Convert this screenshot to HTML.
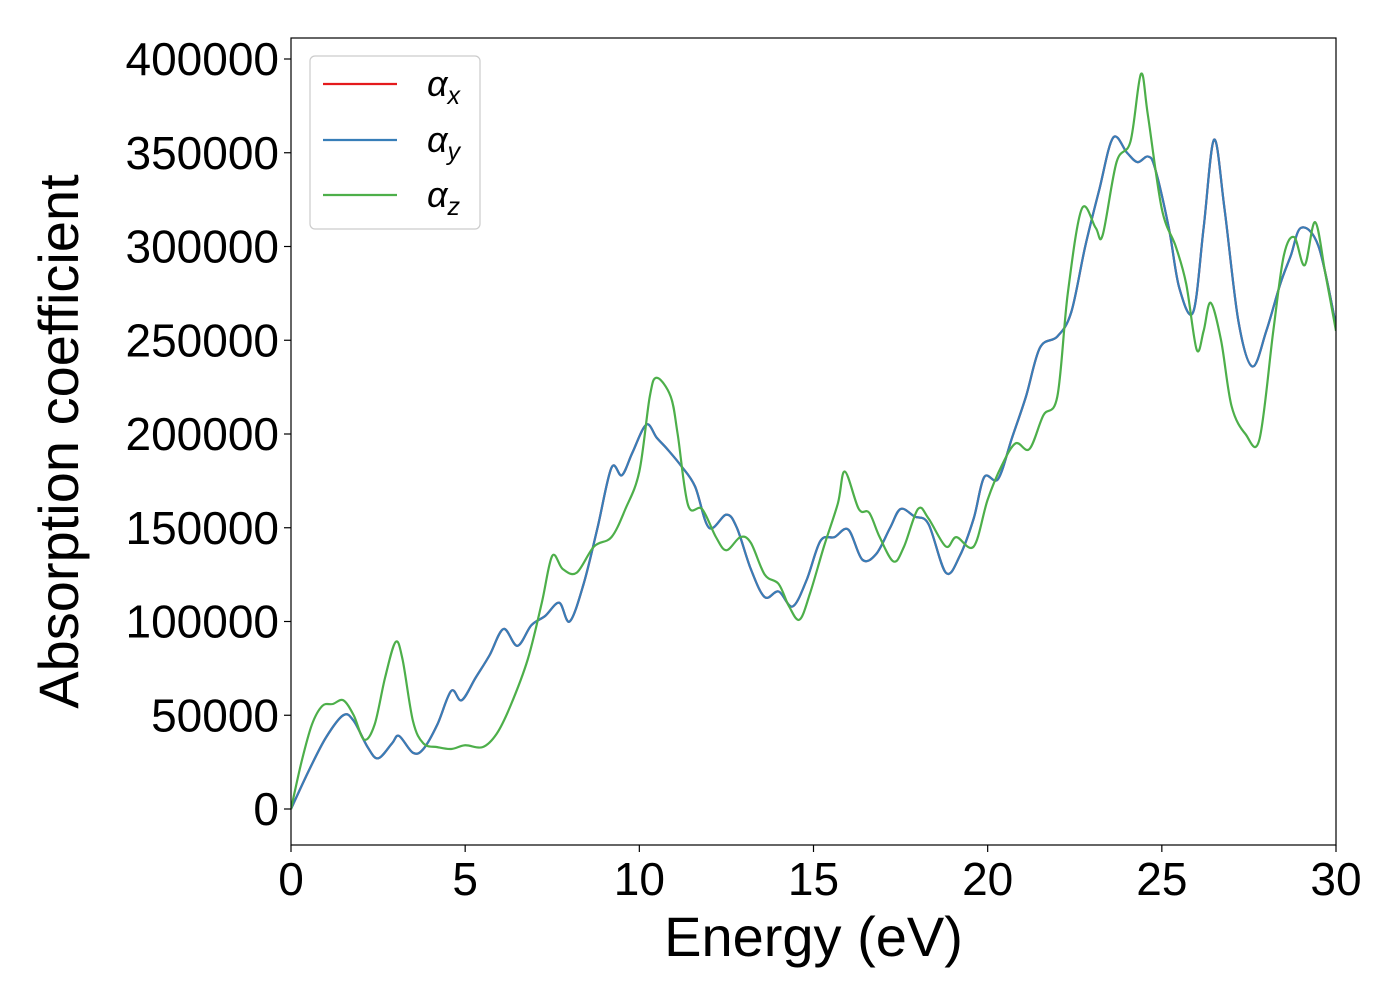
<!DOCTYPE html>
<html><head><meta charset="utf-8"><style>
html,body{margin:0;padding:0;background:#fff;}
svg{display:block;font-family:"Liberation Sans","DejaVu Sans",sans-serif;}
</style></head><body>
<svg id="chart" width="1400" height="1000" viewBox="0 0 1400 1000" xmlns="http://www.w3.org/2000/svg"></svg>
<script>
const xTicks=[0,5,10,15,20,25,30];
const yTicks=[0,50000,100000,150000,200000,250000,300000,350000,400000];
const energyXY=[0,0.5,1.0,1.5,1.8,2.2,2.5,2.9,3.1,3.5,3.8,4.2,4.6,4.9,5.3,5.7,6.1,6.5,6.9,7.3,7.7,8.0,8.4,8.8,9.2,9.5,9.8,10.2,10.5,10.8,11.2,11.6,12.0,12.5,12.8,13.2,13.6,14.0,14.4,14.8,15.2,15.6,16.0,16.4,16.8,17.2,17.5,17.9,18.3,18.8,19.2,19.6,19.9,20.3,20.7,21.1,21.5,22.0,22.4,22.8,23.2,23.6,24.0,24.3,24.6,24.8,25.2,25.5,25.9,26.2,26.5,26.8,27.2,27.6,28.0,28.4,28.7,29.0,29.5,30];
const alphaXY=[0,20000,38000,50000,47000,33000,27000,35000,39000,30000,32000,45000,63000,58000,70000,82000,96000,87000,98000,103000,110000,100000,120000,150000,182000,178000,190000,205000,198000,192000,183000,172000,150000,157000,150000,128000,113000,116000,108000,122000,143000,145000,149000,133000,136000,150000,160000,156000,152000,126000,135000,155000,177000,176000,198000,220000,246000,252000,265000,300000,330000,358000,350000,345000,348000,342000,310000,278000,265000,310000,357000,320000,260000,236000,255000,280000,295000,310000,300000,258000];
const energyZ=[0,0.3,0.6,0.9,1.2,1.5,1.8,2.1,2.4,2.7,3.0,3.2,3.5,3.8,4.2,4.6,5.0,5.5,5.9,6.3,6.8,7.2,7.5,7.8,8.2,8.7,9.2,9.6,10.0,10.3,10.5,10.9,11.1,11.4,11.8,12.2,12.5,12.9,13.2,13.6,14.0,14.3,14.6,14.9,15.3,15.7,15.9,16.3,16.6,16.9,17.3,17.6,18.0,18.3,18.8,19.1,19.6,20.0,20.4,20.8,21.2,21.6,22.0,22.3,22.7,23.1,23.3,23.7,24.1,24.4,24.6,25.0,25.4,25.7,26.0,26.2,26.4,26.7,27.0,27.4,27.8,28.2,28.5,28.8,29.1,29.4,29.7,30];
const alphaZ=[0,25000,45000,55000,56000,58000,50000,37000,45000,70000,89000,80000,47000,35000,33000,32000,34000,33000,40000,55000,80000,110000,135000,128000,126000,140000,145000,160000,180000,220000,230000,220000,200000,162000,160000,145000,138000,145000,142000,125000,120000,108000,101000,115000,140000,163000,180000,160000,158000,145000,132000,140000,160000,155000,140000,145000,140000,165000,183000,195000,192000,210000,220000,275000,320000,310000,306000,345000,356000,392000,370000,320000,300000,280000,245000,255000,270000,250000,215000,200000,197000,255000,295000,305000,290000,313000,285000,255000];

const NS="http://www.w3.org/2000/svg";
const svg=document.getElementById('chart');
const L=291,R=1336,T=38,B=845;
const X=v=>L+(v-0)/30*(R-L);
const Y=v=>809-v*750/400000;
function mk(tag,attrs,parent){const e=document.createElementNS(NS,tag);for(const k in attrs)e.setAttribute(k,attrs[k]);(parent||svg).appendChild(e);return e;}
function pathFor(xs,ys){
  const p=xs.map((x,i)=>[X(x),Y(ys[i])]);
  let d=`M${p[0][0]},${p[0][1]}`;
  for(let i=0;i<p.length-1;i++){
    const p0=p[i-1]||p[i],p1=p[i],p2=p[i+1],p3=p[i+2]||p2;
    const c1=[p1[0]+(p2[0]-p0[0])/6,p1[1]+(p2[1]-p0[1])/6];
    const c2=[p2[0]-(p3[0]-p1[0])/6,p2[1]-(p3[1]-p1[1])/6];
    d+=` C${c1[0]},${c1[1]} ${c2[0]},${c2[1]} ${p2[0]},${p2[1]}`;
  }
  return d;
}
mk('clipPath',{id:'clip'}).appendChild(document.createElementNS(NS,'rect'));
const cr=svg.querySelector('#clip rect');cr.setAttribute('x',L);cr.setAttribute('y',T);cr.setAttribute('width',R-L);cr.setAttribute('height',B-T);
const g=mk('g',{'clip-path':'url(#clip)'});


const lx=mk('path',{d:pathFor(energyXY,alphaXY),fill:'none',stroke:'#e41a1c','stroke-width':2.2},g);


const ly=mk('path',{d:pathFor(energyXY,alphaXY),fill:'none',stroke:'#377eb8','stroke-width':2.2},g);


const lz=mk('path',{d:pathFor(energyZ,alphaZ),fill:'none',stroke:'#4daf4a','stroke-width':2.2},g);


const frame=mk('rect',{x:L,y:T,width:R-L,height:B-T,fill:'none',stroke:'#000','stroke-width':1.2});


xTicks.forEach(t=>{
  mk('line',{x1:X(t),x2:X(t),y1:B,y2:B+7,stroke:'#000','stroke-width':1.2});
  const tx=mk('text',{x:X(t),y:B+50,'text-anchor':'middle','font-size':46});
  tx.textContent=t;
  
  
});
yTicks.forEach(t=>{
  mk('line',{x1:L-7,x2:L,y1:Y(t),y2:Y(t),stroke:'#000','stroke-width':1.2});
  const tx=mk('text',{x:L-12,y:Y(t)+16,'text-anchor':'end','font-size':46});
  tx.textContent=t;
  
  
});
const xt=mk('text',{x:(L+R)/2,y:956,'text-anchor':'middle','font-size':56});
xt.textContent='Energy (eV)';


const yt=mk('text',{x:0,y:0,'text-anchor':'middle','font-size':56,transform:`translate(78,${(T+B)/2}) rotate(-90)`});
yt.textContent='Absorption coefficient';


const lg=mk('g',{});


mk('rect',{x:310,y:56,width:170,height:173,rx:5,fill:'#fff',stroke:'#ccc','stroke-width':1.2},lg);
[['#e41a1c','x',84],['#377eb8','y',140],['#4daf4a','z',195]].forEach(([c,s,yy])=>{
  const e=mk('g',{},lg);
  
  
  mk('line',{x1:323,x2:397,y1:yy,y2:yy,stroke:c,'stroke-width':2.2},e);
  const t=mk('text',{x:427,y:yy+12,'font-size':36,'font-style':'italic'},e);
  t.textContent='α';
  const sub=mk('tspan',{'font-size':25,dy:8},t);
  sub.textContent=s;
});
</script>
</body></html>
